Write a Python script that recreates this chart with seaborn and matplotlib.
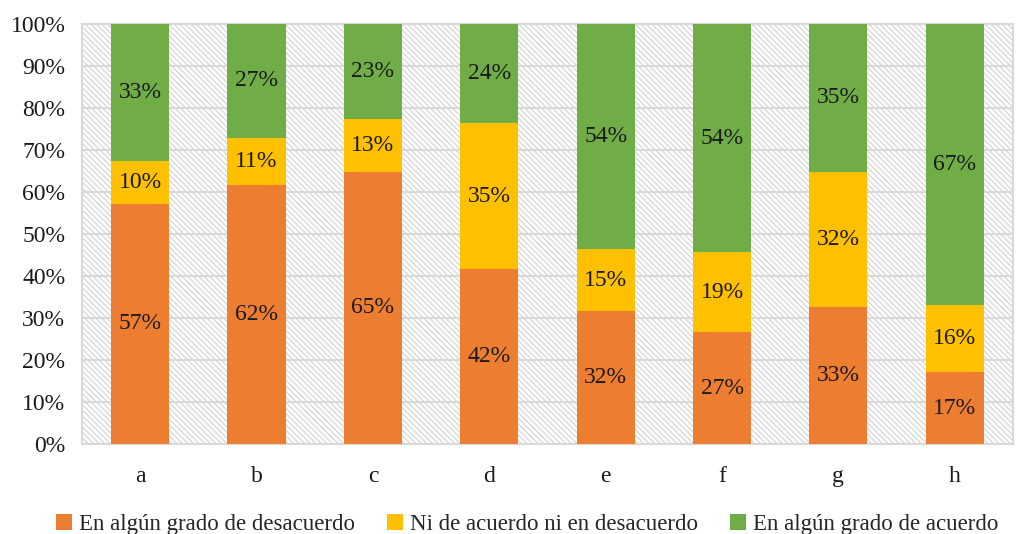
import seaborn as sns
import numpy as np
import matplotlib.pyplot as plt
from matplotlib.patches import Rectangle

cats = ["a", "b", "c", "d", "e", "f", "g", "h"]
desacuerdo = [57.2, 61.7, 64.8, 41.7, 31.7, 26.6, 32.6, 17.1]
ni_ni = [10.2, 11.2, 12.6, 34.7, 14.7, 19.1, 32.2, 16.0]
acuerdo = [32.6, 27.1, 22.6, 23.6, 53.6, 54.3, 35.2, 66.9]
series = ["En algún grado de desacuerdo", "Ni de acuerdo ni en desacuerdo", "En algún grado de acuerdo"]
colors = ["#ED7D31", "#FFC000", "#70AD47"]

sns.set_style("white")
plt.rcParams['font.family'] = ['Liberation Serif', 'DejaVu Serif']
plt.rcParams['hatch.color'] = '#d9d9d9'
plt.rcParams['hatch.linewidth'] = 1.0

fig = plt.figure(figsize=(10.16, 5.34), dpi=100)
ax = fig.add_axes([0.0807, 0.1685, 0.9163, 0.7865])

# hatched background
ax.add_patch(Rectangle((0, 0), 1, 1, transform=ax.transAxes, facecolor='white',
                       hatch='\\' * 6, edgecolor='#d9d9d9', lw=0, zorder=0))

bottom = np.zeros(len(cats))
for vals, name, c in zip([desacuerdo, ni_ni, acuerdo], series, colors):
    sns.barplot(x=cats, y=vals, bottom=bottom, color=c, width=0.5, ax=ax,
                label=name, saturation=1, linewidth=0, zorder=3)
    for i, v in enumerate(vals):
        ax.text(i, bottom[i] + v / 2, f"{round(v):.0f}%", ha='center', va='center',
                fontsize=17, color='#1a1a1a', zorder=4)
    bottom += np.array(vals)

ax.set_ylim(0, 100)
ax.set_xlim(-0.5, 7.5)
ax.set_yticks(range(0, 101, 10))
ax.set_yticklabels([f"{t}%" for t in range(0, 101, 10)])
ax.grid(axis='y', color='#d9d9d9', lw=1.5, zorder=1)
ax.set_axisbelow(True)
ax.tick_params(axis='both', length=0, labelsize=17, colors='#1a1a1a')
ax.tick_params(axis='x', pad=16)
ax.tick_params(axis='y', pad=12)
for s in ax.spines.values():
    s.set_color('#d9d9d9')
    s.set_linewidth(1.5)

handles, labels = ax.get_legend_handles_labels()
if ax.legend_:
    ax.legend_.remove()
fig.legend(handles, labels, loc='center', bbox_to_anchor=(0.519, 0.018), ncol=3,
           frameon=False, fontsize=16.5, handlelength=0.7, handleheight=0.7,
           handletextpad=0.3, columnspacing=1.4, borderpad=0)

fig.savefig("out.png", dpi=100)
